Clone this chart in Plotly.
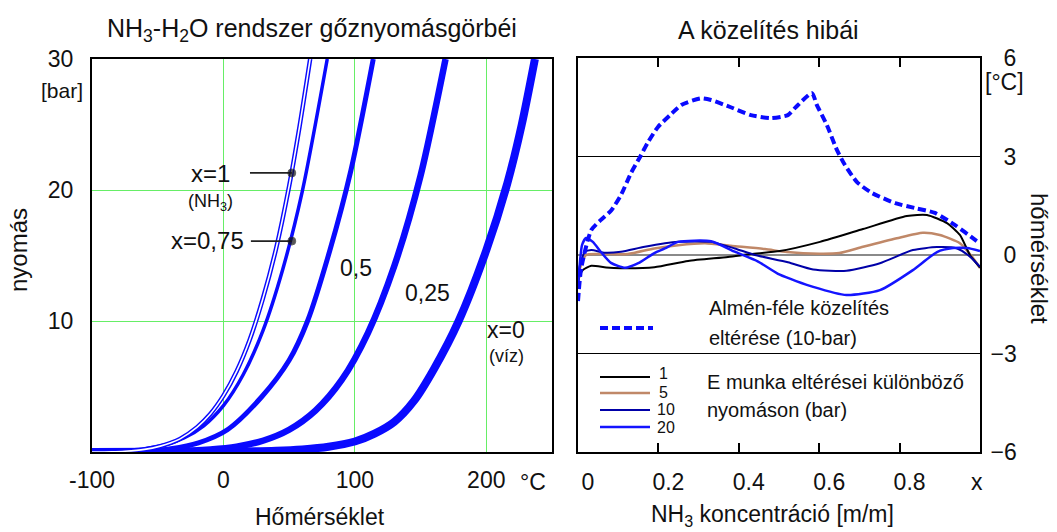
import plotly.graph_objects as go

W, H = 1057, 532
FONT = "Liberation Sans, Arial, sans-serif"

# ---------------- left panel: vapour pressure curves (T [°C], p [bar]) ----------------
nh3_T = [-100, -85, -75, -60, -48, -40, -33, -20, -10, 0, 10, 20, 30, 40, 50, 58, 66]
nh3_p = [0, 0.02, 0.06, 0.2, 0.45, 0.7, 1.0, 1.9, 2.9, 4.3, 6.15, 8.57, 11.7, 15.5, 20.3, 24.9, 30]

x075_T = [-100, -85, -75, -60, -45, -30, -15, 0, 15, 30, 45, 60, 79]
x075_p = [0, 0.03, 0.1, 0.25, 0.54, 1.07, 2.0, 3.54, 5.9, 9.25, 13.9, 19.9, 30]

x05_T = [-100, -80, -60, -40, -19, 3, 29, 50, 64, 81, 97, 114]
x05_p = [0, 0.02, 0.07, 0.25, 0.7, 1.7, 4.2, 7.0, 10, 15.4, 21.5, 30]

x025_T = [-100, -70, -40, -10, 10, 30, 50, 70, 90, 110, 130, 150, 169]
x025_p = [0, 0.02, 0.06, 0.2, 0.41, 0.86, 1.7, 3.16, 5.5, 9.1, 14.2, 21.1, 30]

water_T = [-100, 0, 40, 60, 80, 100, 115, 130, 145, 160, 179, 200, 216, 227, 237]
water_p = [0, 0.03, 0.1, 0.2, 0.4, 0.8, 1.4, 2.3, 3.9, 6.3, 10, 15.4, 20.5, 25, 30]

# pointer dots for the x=1 and x=0,75 labels
ptr1_T, ptr1_p = [20.2, 52], [21.3, 21.3]
ptr075_T, ptr075_p = [20.9, 52], [16.1, 16.1]

left_xticks = [-100, 0, 100, 200]
left_xlabels = ["-100", "0", "100", "200"]
left_yticks = [0, 10, 20, 30]
left_ylabels = ["", "10", "20", "30"]

# ---------------- right panel: approximation errors (x [m/m], dT [°C]) ----------------
almen_x = [0.0, 0.008, 0.033, 0.057, 0.082, 0.107, 0.132, 0.154, 0.174, 0.199, 0.229, 0.257,
           0.306, 0.331, 0.38, 0.43, 0.48, 0.522, 0.54, 0.582, 0.594, 0.619, 0.644, 0.664,
           0.694, 0.731, 0.789, 0.838, 0.888, 0.938, 0.988, 1.0]
almen_y = [-1.4, -0.4, 0.76, 1.07, 1.35, 1.83, 2.5, 2.98, 3.43, 3.9, 4.26, 4.57,
           4.77, 4.72, 4.5, 4.26, 4.17, 4.26, 4.48, 4.93, 4.57, 3.96, 3.2, 2.74,
           2.22, 1.89, 1.58, 1.43, 1.28, 0.91, 0.46, 0.35]

p1_x = [0.0, 0.005, 0.012, 0.033, 0.07, 0.107, 0.19, 0.274, 0.373, 0.43, 0.502, 0.602,
        0.709, 0.818, 0.868, 0.918, 0.95, 0.975, 1.0]
p1_y = [-0.85, -0.6, -0.46, -0.33, -0.38, -0.40, -0.37, -0.18, -0.06, 0.03, 0.12, 0.40,
        0.79, 1.19, 1.22, 0.97, 0.61, 0.0, -0.38]

p5_x = [0.0, 0.005, 0.02, 0.05, 0.124, 0.19, 0.249, 0.316, 0.38, 0.465, 0.52, 0.6, 0.65,
        0.709, 0.793, 0.858, 0.9, 0.95, 0.98, 1.0]
p5_y = [-0.7, -0.4, 0.0, 0.03, 0.03, 0.2, 0.3, 0.36, 0.28, 0.18, 0.09, 0.04, 0.06,
        0.25, 0.51, 0.68, 0.61, 0.36, -0.05, -0.4]

p10_x = [0.0, 0.005, 0.017, 0.033, 0.067, 0.107, 0.166, 0.249, 0.331, 0.39, 0.44, 0.522,
         0.585, 0.668, 0.751, 0.833, 0.893, 0.943, 0.975, 1.0]
p10_y = [-0.6, -0.3, 0.09, 0.15, 0.07, 0.1, 0.25, 0.4, 0.4, 0.2, 0.0, -0.22,
         -0.44, -0.48, -0.25, 0.15, 0.24, 0.2, -0.05, -0.36]

p20_x = [0.0, 0.005, 0.01, 0.02, 0.037, 0.057, 0.082, 0.117, 0.15, 0.19, 0.216, 0.249,
         0.331, 0.39, 0.448, 0.502, 0.585, 0.668, 0.751, 0.833, 0.893, 0.933, 0.968, 1.0]
p20_y = [-1.0, -0.2, 0.3, 0.52, 0.4, 0.09, -0.24, -0.39, -0.25, 0.06, 0.2, 0.4,
         0.42, 0.1, -0.2, -0.6, -0.97, -1.22, -1.07, -0.46, 0.09, 0.21, 0.21, 0.12]

right_xticks = [0, 0.2, 0.4, 0.6, 0.8]
right_xlabels = ["0", "0.2", "0.4", "0.6", "0.8"]
right_yticks = [-6, -3, 0, 3, 6]
right_ylabels = ["\u22126", "\u22123", "\u20070", "\u20073", "\u20076"]

BLUE = "#0a0aff"
BLACK = "#000000"
BROWN = "#c08868"
NAVY = "#0000a8"
BLUE20 = "#1414ff"
GREEN = "#66ee66"


def P(px, py):
    return px / W, 1 - py / H


fig = go.Figure()

# ---- left curves
def curve(T, p, width, color=BLUE):
    fig.add_trace(go.Scatter(x=T, y=p, mode="lines", xaxis="x", yaxis="y",
                             line=dict(color=color, width=width, shape="spline", smoothing=0.8),
                             hoverinfo="skip"))

curve(water_T, water_p, 8)
curve(x025_T, x025_p, 6.5)
curve(x05_T, x05_p, 5)
curve(x075_T, x075_p, 3.5)
curve(nh3_T, nh3_p, 4.5)
curve(nh3_T, nh3_p, 1.6, "white")

for T, p in [(ptr1_T, ptr1_p), (ptr075_T, ptr075_p)]:
    fig.add_trace(go.Scatter(x=T, y=p, mode="lines+markers", xaxis="x", yaxis="y",
                             line=dict(color="#222", width=1.8),
                             marker=dict(size=[0, 8], color="#111"), hoverinfo="skip"))

# ---- right curves
def rcurve(x, y, color, width, dash="solid"):
    fig.add_trace(go.Scatter(x=x, y=y, mode="lines", xaxis="x2", yaxis="y2",
                             line=dict(color=color, width=width, dash=dash,
                                       shape="spline", smoothing=0.6),
                             hoverinfo="skip"))

rcurve(p5_x, p5_y, BROWN, 2.5)
rcurve(p1_x, p1_y, BLACK, 2)
rcurve(p10_x, p10_y, NAVY, 2)
rcurve(p20_x, p20_y, BLUE20, 2.5)
rcurve(almen_x, almen_y, BLUE, 4, "8px,4px")

axis_font = dict(family=FONT, size=23, color="#111")

fig.update_layout(
    width=W, height=H, margin=dict(l=0, r=0, t=0, b=0, autoexpand=False),
    paper_bgcolor="white", plot_bgcolor="white", showlegend=False,
    font=dict(family=FONT, color="#111"),
    xaxis=dict(domain=[92 / W, 552 / W], range=[-100, 250], anchor="y", automargin=False,
               tickmode="array", tickvals=left_xticks, ticktext=left_xlabels,
               showgrid=True, gridcolor=GREEN, gridwidth=1, zeroline=False,
               showline=True, linecolor="black", linewidth=2, mirror=True,
               ticks="", tickfont=axis_font, ticklabelstandoff=6),
    yaxis=dict(domain=[1 - 452 / H, 1 - 59 / H], range=[0, 30], anchor="x", automargin=False,
               tickmode="array", tickvals=left_yticks, ticktext=left_ylabels,
               showgrid=True, gridcolor=GREEN, gridwidth=1, zeroline=False,
               showline=True, linecolor="black", linewidth=2, mirror=True,
               ticks="", tickfont=axis_font, ticklabelstandoff=12),
    xaxis2=dict(domain=[578 / W, 980 / W], range=[0, 1], anchor="y2", automargin=False,
                tickmode="array", tickvals=right_xticks, ticktext=right_xlabels,
                showgrid=False, zeroline=False,
                showline=True, linecolor="black", linewidth=2, mirror="ticks",
                ticks="inside", ticklen=9, tickwidth=2, tickcolor="black",
                tickfont=axis_font, ticklabelstandoff=8, ticklabelshift=10),
    yaxis2=dict(domain=[1 - 452 / H, 1 - 58 / H], range=[-6, 6], anchor="x2", side="right",
                automargin=False,
                tickmode="array", tickvals=right_yticks, ticktext=right_ylabels,
                showgrid=True, gridcolor="black", gridwidth=1,
                zeroline=True, zerolinecolor="#8a8a8a", zerolinewidth=1.5,
                showline=True, linecolor="black", linewidth=2, mirror=True,
                ticks="", tickfont=axis_font, ticklabelstandoff=4),
)

anns = []

def text(t, px, py, size, xanchor="center", angle=0, color="#111"):
    x, y = P(px, py)
    anns.append(dict(text=t, x=x, y=y, xref="paper", yref="paper", showarrow=False,
                     xanchor=xanchor, yanchor="middle", textangle=angle,
                     font=dict(family=FONT, size=size, color=color)))

text("NH<sub>3</sub>-H<sub>2</sub>O rendszer gőznyomásgörbéi", 312, 30, 25)
text("A közelítés hibái", 768, 30, 25)
text("[bar]", 62, 91, 21)
text("°C", 533, 482, 23)
text("x", 977, 482, 23)
text("[°C]", 1004, 82, 23)
text("Hőmérséklet", 320, 517, 23)
text("NH<sub>3</sub> koncentráció [m/m]", 772, 515, 23)
text("nyomás", 18, 250, 24, angle=-90)
text("hőmérséklet", 1040, 258, 24, angle=90)
text("x=1", 210, 173, 24)
text("(NH<sub>3</sub>)", 210, 203, 18)
text("x=0,75", 207, 241, 24)
text("0,5", 356, 268, 23)
text("0,25", 427, 293, 23)
text("x=0", 506, 330, 23)
text("(víz)", 506, 356, 18)
text("Almén-féle közelítés", 707, 308, 20, "left")
text("eltérése (10-bar)", 707, 338, 20, "left")
text("E munka eltérései különböző", 705, 382, 20, "left")
text("nyomáson (bar)", 705, 410, 20, "left")
text("1", 657, 373, 16, "left")
text("5", 657, 392, 16, "left")
text("10", 655, 409, 16, "left")
text("20", 655, 427, 16, "left")
fig.update_layout(annotations=anns)

shapes = []

def seg(px0, px1, py, color, width, dash="solid"):
    x0, y0 = P(px0, py)
    x1, _ = P(px1, py)
    shapes.append(dict(type="line", xref="paper", yref="paper", x0=x0, x1=x1, y0=y0, y1=y0,
                       line=dict(color=color, width=width, dash=dash)))

seg(600, 653, 328, BLUE, 4, "8px,4px")
seg(600, 650, 377, BLACK, 2)
seg(600, 650, 393, BROWN, 2.5)
seg(600, 650, 410, NAVY, 2)
seg(600, 650, 427, BLUE20, 2.5)
fig.update_layout(shapes=shapes)

fig.write_html("out.html")
